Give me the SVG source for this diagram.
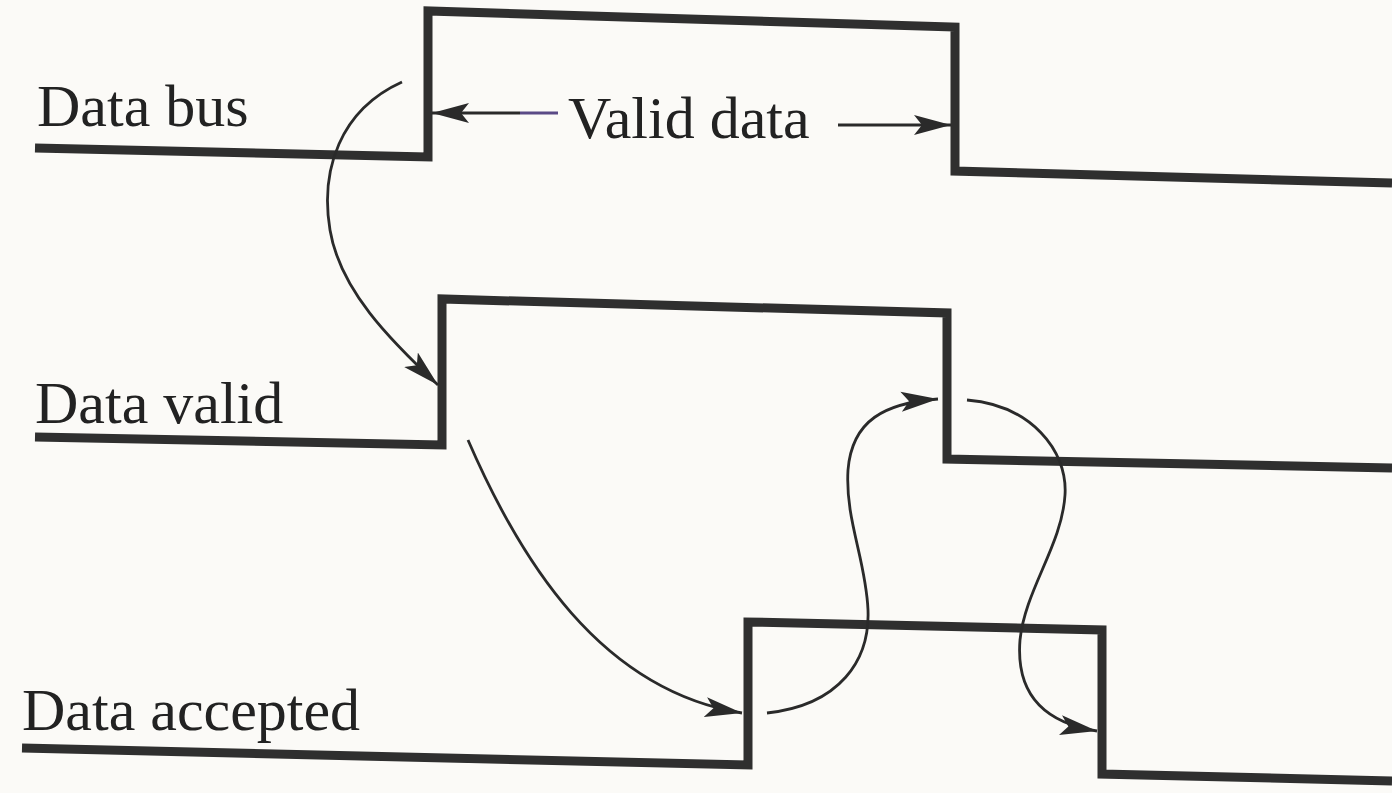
<svg xmlns="http://www.w3.org/2000/svg" width="1392" height="793" viewBox="0 0 1392 793">
  <style>
    .wave { fill: none; stroke: #2f2f2f; stroke-width: 9; stroke-linejoin: miter; stroke-linecap: butt; }
    .lbl { font-family: "Liberation Serif", "Times New Roman", serif; font-size: 60px; fill: #222222; }
    .conn { fill: none; stroke: #2a2a2a; stroke-width: 2.8; }
    .dim { fill: none; stroke: #2a2a2a; stroke-width: 3.2; }
  </style>
  <defs>
    <marker id="ah" markerUnits="userSpaceOnUse" markerWidth="40" markerHeight="24" refX="37" refY="12" orient="auto">
      <path d="M0,2 L37,12 L0,22 L8,12 Z" fill="#2a2a2a"/>
    </marker>
  </defs>
  <rect width="1392" height="793" fill="#fbfaf7"/>

  <g id="data-bus">
    <polyline class="wave" points="35,148 428,157 428,11 955,27 955,171 1392,183"/>
    <text class="lbl" x="37" y="126">Data bus</text>
  </g>
  <g id="valid-data">
    <text class="lbl" x="568" y="138">Valid data</text>
  </g>
  <g id="data-valid">
    <polyline class="wave" points="35,437 442,445 442,299 947,313 947,459 1392,468"/>
    <text class="lbl" x="35" y="423">Data valid</text>
  </g>
  <g id="data-accepted">
    <polyline class="wave" points="22,748 748,765 748,622 1102,630 1102,774 1392,781"/>
    <text class="lbl" x="22" y="730">Data accepted</text>
  </g>

  <g id="connectors">
    <path class="dim" d="M520,113 L432,113" marker-end="url(#ah)"/>
    <path d="M520,113 L558,113" fill="none" stroke="#5a4a86" stroke-width="3"/>
    <path class="dim" d="M838,125 L951,125" marker-end="url(#ah)"/>
    <path class="conn" d="M402,82 C340,110 320,170 330,230 C340,290 390,340 438,385" marker-end="url(#ah)"/>
    <path class="conn" d="M468,440 C520,560 600,690 742,713" marker-end="url(#ah)"/>
    <path class="conn" d="M767,713 C840,705 870,660 868,610 C866,560 845,520 848,470 C852,420 885,403 938,399" marker-end="url(#ah)"/>
    <path class="conn" d="M967,400 C1030,405 1068,450 1065,495 C1062,545 1025,590 1020,640 C1016,690 1040,722 1097,731" marker-end="url(#ah)"/>
  </g>
</svg>
